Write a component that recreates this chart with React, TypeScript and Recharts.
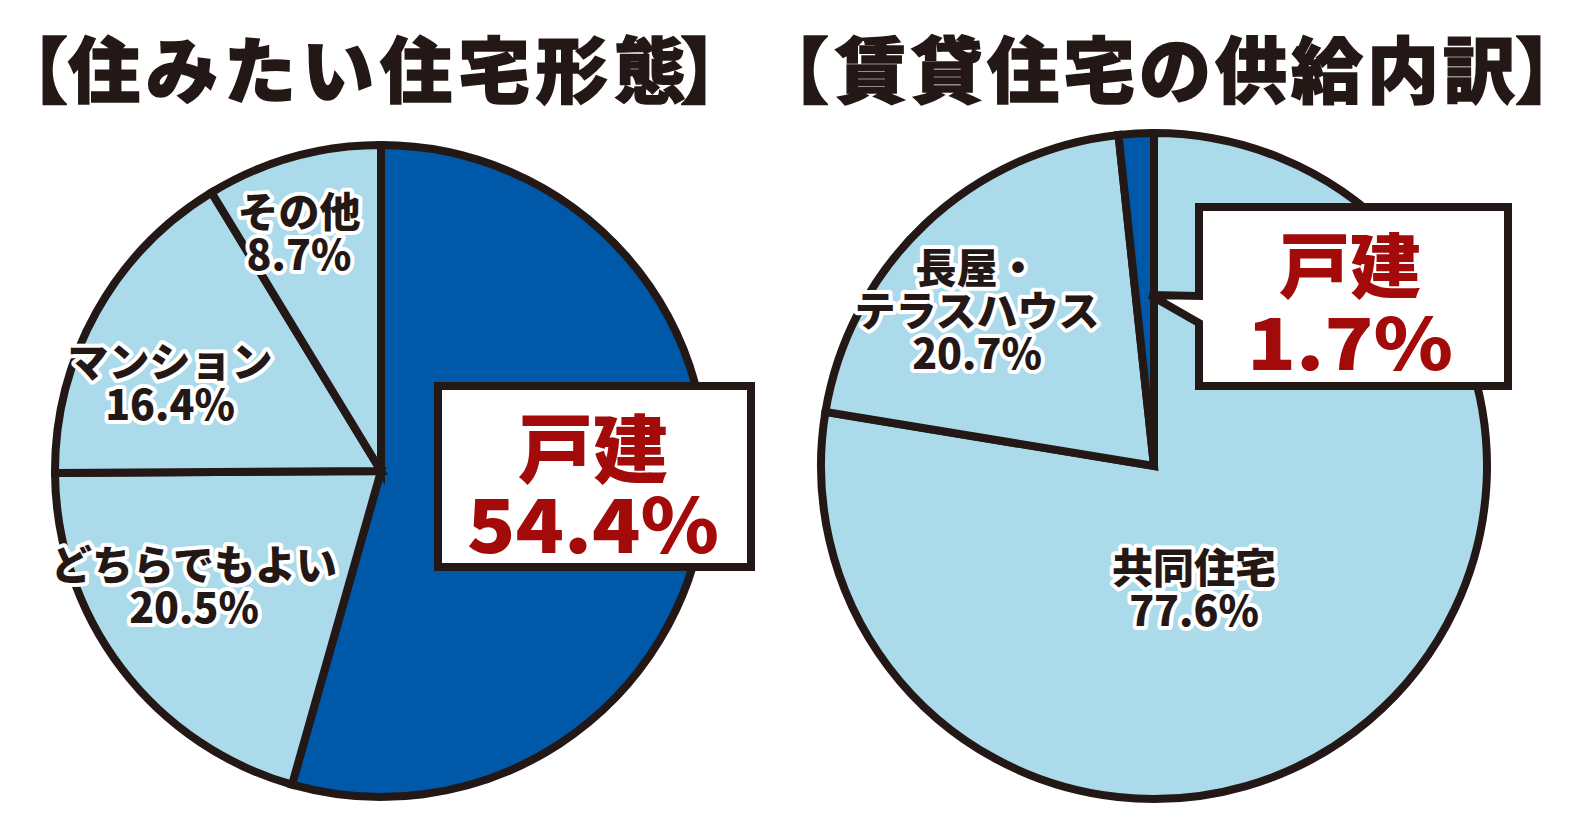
import React from 'react';
import { PieChart, Pie, Cell } from 'recharts';

// 住みたい住宅形態 (clockwise from 12 o'clock)
const WANT_NAMES = ['戸建', 'どちらでもよい', 'マンション', 'その他'];
const WANT_VALUES = [54.4, 20.5, 16.4, 8.7];

// 賃貸住宅の供給内訳 (clockwise from 12 o'clock)
const RENT_NAMES = ['共同住宅', '長屋・\nテラスハウス', '戸建'];
const RENT_VALUES = [77.6, 20.7, 1.7];

const DARK = '#0058A9';
const LIGHT = '#ABDAEA';
const INK = '#231815';
const RED = '#A30B0B';
const FONT = '"Noto Sans CJK JP", "Noto Sans", sans-serif';

const WANT_COLORS = [DARK, LIGHT, LIGHT, LIGHT];
const RENT_COLORS = [LIGHT, LIGHT, DARK];

const wantData = WANT_NAMES.map((name, i) => ({ name, value: WANT_VALUES[i] }));
const rentData = RENT_NAMES.map((name, i) => ({ name, value: RENT_VALUES[i] }));

// label centre offsets from the pie centre (null = callout box instead)
const WANT_LABEL_POS: ([number, number] | null)[] = [null, [-187, 112], [-211, -91], [-82, -241]];
const RENT_LABEL_POS: ([number, number] | null)[] = [[40, 120], [-177, -158], null];

const LINE_H = 43;

const sliceLabel = (props: any, pos: [number, number], name: string, value: number) => {
  const lines = [...name.split('\n'), `${value.toFixed(1)}%`];
  const x = props.cx + pos[0];
  const y0 = props.cy + pos[1] - ((lines.length - 1) * LINE_H) / 2;
  return (
    <text
      x={x}
      y={y0}
      textAnchor="middle"
      dominantBaseline="central"
      fontFamily={FONT}
      fontWeight={900}
      fontSize={41}
      fill={INK}
      stroke="#fff"
      strokeWidth={8}
      strokeLinejoin="round"
      style={{ paintOrder: 'stroke' }}
    >
      {lines.map((l, i) => (
        <tspan key={i} x={x} y={y0 + i * LINE_H}>
          {l}
        </tspan>
      ))}
    </text>
  );
};

const calloutText = (x: number, y1: number, y2: number, name: string, value: number, size: number, numWidth: number) => (
  <g fontFamily={FONT} fontWeight={900} fill={RED} textAnchor="middle">
    <text x={x} y={y1} fontSize={size} dominantBaseline="central">
      {name}
    </text>
    <text
      x={x}
      y={y2}
      fontSize={size}
      dominantBaseline="central"
      textLength={numWidth}
      lengthAdjust="spacingAndGlyphs"
    >
      {`${value.toFixed(1)}%`}
    </text>
  </g>
);

const wantLabel = (props: any) => {
  const i = props.index;
  const pos = WANT_LABEL_POS[i];
  if (pos) return sliceLabel(props, pos, WANT_NAMES[i], WANT_VALUES[i]);
  const { cx, cy } = props;
  return (
    <g key="callout-left">
      <rect x={cx + 57} y={cy - 85} width={313} height={181} fill="#fff" stroke={INK} strokeWidth={8} />
      {calloutText(cx + 212, cy - 27, cy + 49, WANT_NAMES[i], WANT_VALUES[i], 75, 252)}
    </g>
  );
};

const rentLabel = (props: any) => {
  const i = props.index;
  const pos = RENT_LABEL_POS[i];
  if (pos) return sliceLabel(props, pos, RENT_NAMES[i], RENT_VALUES[i]);
  const { cx, cy } = props;
  const l = cx + 45;
  const r = cx + 354;
  const t = cy - 259;
  const b = cy - 80;
  const d = `M${l},${t} H${r} V${b} H${l} V${cy - 143} L${cx - 4},${cy - 171} L${l},${cy - 170} Z`;
  return (
    <g key="callout-right">
      <path d={d} fill="#fff" stroke={INK} strokeWidth={8} strokeLinejoin="miter" />
      {calloutText(cx + 196, cy - 205, cy - 127, RENT_NAMES[i], RENT_VALUES[i], 71, 206)}
    </g>
  );
};

export default function App() {
  return (
    <div style={{ position: 'absolute', left: 0, top: 0, width: 1580, height: 820, background: '#fff' }}>
      <PieChart width={1580} height={820} margin={{ top: 0, right: 0, bottom: 0, left: 0 }}>
        <Pie
          data={wantData}
          dataKey="value"
          nameKey="name"
          cx={381}
          cy={471}
          outerRadius={326}
          startAngle={90}
          endAngle={-270}
          stroke={INK}
          strokeWidth={8}
          label={wantLabel}
          labelLine={false}
          isAnimationActive={false}
        >
          {wantData.map((_, i) => (
            <Cell key={i} fill={WANT_COLORS[i]} />
          ))}
        </Pie>
        <Pie
          data={rentData}
          dataKey="value"
          nameKey="name"
          cx={1154}
          cy={466}
          outerRadius={333}
          startAngle={90}
          endAngle={-270}
          stroke={INK}
          strokeWidth={8}
          label={rentLabel}
          labelLine={false}
          isAnimationActive={false}
        >
          {rentData.map((_, i) => (
            <Cell key={i} fill={RENT_COLORS[i]} />
          ))}
        </Pie>
      </PieChart>
      <svg
        width={1580}
        height={820}
        style={{ position: 'absolute', left: 0, top: 0, pointerEvents: 'none' }}
      >
        <g fontFamily={FONT} fontWeight={900} fontSize={72} fill={INK} stroke={INK} strokeWidth={1.5}>
          <text x={-4} y={97}>【</text>
          <text x={68} y={97} letterSpacing={6}>住みたい住宅形態</text>
          <text x={680} y={97}>】</text>
          <text x={757} y={97}>【</text>
          <text x={835} y={97} letterSpacing={4}>賃貸住宅の供給内訳</text>
          <text x={1515} y={97}>】</text>
        </g>
      </svg>
    </div>
  );
}
